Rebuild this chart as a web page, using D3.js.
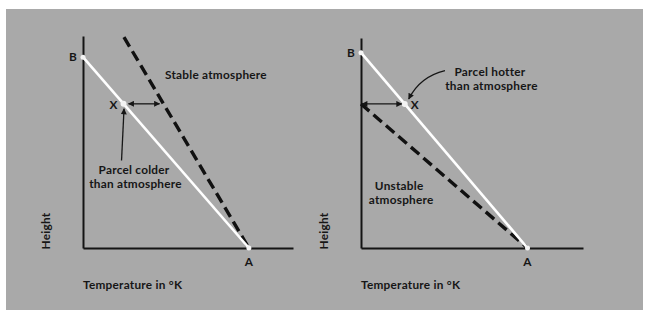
<!DOCTYPE html>
<html>
<head>
<meta charset="utf-8">
<script src="https://cdn.jsdelivr.net/npm/d3@7"></script>
<style>
  html, body { margin: 0; padding: 0; background: #fff; }
  #fig { width: 648px; height: 318px; }
  text { font-family: Lato, "DejaVu Sans", sans-serif; font-weight: 700; font-size: 11.8px; letter-spacing: 0.25px; fill: #161616; }
</style>
</head>
<body>
<div id="fig"></div>
<script>
// data (temperature / height in arbitrary units, 0..100 on each panel)
var panelTitles = [["Stable atmosphere"], ["Unstable", "atmosphere"]]
var parcelLines = [[[0, 90], [79, 0]], [[0, 93], [75, 0]]]          // dry adiabat B -> A (white)
var envLines = [[[19.5, 99.5], [79, 0]], [[0, 68.6], [75, 0]]]      // atmosphere lapse (dashed)
var parcelPoints = [[19.3, 68], [19.7, 68.6]]                       // X
var noteLines = [["Parcel colder", "than atmosphere"], ["Parcel hotter", "than atmosphere"]]
var noteAnchors = [[24.3, 35.1], [58.1, 82.1]]
var titleAnchors = [[63.3, 79.7], [17.2, 27.6]]
var xLabel = "Temperature in \u00b0K"
var yLabel = "Height"

!(function(){
    "use strict"

    var width = 648, height = 318
    var svg = d3.select("#fig").append("svg")
    // pixel frame of each panel: [x0, x1, y0, y1]
    var frames = [[83, 293, 248, 36], [361, 583, 248, 38]]

    main()

    function main() {
        svg.attr("width", width).attr("height", height)
        svg.append("rect")
            .attr("x", 6).attr("y", 9)
            .attr("width", 637).attr("height", 301)
            .attr("fill", "#a9a9a9")

        var defs = svg.append("defs")
        defs.append("marker")
            .attr("id", "head")
            .attr("markerUnits", "userSpaceOnUse")
            .attr("viewBox", "0 0 10 10")
            .attr("refX", 9).attr("refY", 5)
            .attr("markerWidth", 7).attr("markerHeight", 6)
            .attr("orient", "auto-start-reverse")
            .append("path")
            .attr("d", "M0,0L10,5L0,10z")
            .attr("fill", "#161616")

        frames.forEach(function(f, i) { drawPanel(i, f) })
    }

    function envXAt(line, h) {
        var p0 = line[0], p1 = line[1]
        return p0[0] + (p1[0] - p0[0]) * (h - p0[1]) / (p1[1] - p0[1])
    }

    // stacked lines as separate text nodes
    function stack(g, px, py, lines, gap, shift) {
        lines.forEach(function(t, k) {
            g.append("text")
                .attr("text-anchor", "middle")
                .attr("x", px + k * shift)
                .attr("y", py + k * gap)
                .text(t)
        })
    }

    function drawPanel(i, f) {
        var x = d3.scaleLinear().domain([0, 100]).range([f[0], f[1]])
        var y = d3.scaleLinear().domain([0, 100]).range([f[2], f[3]])
        var g = svg.append("g").classed("panel", true)

        // axes (no ticks, just the lines)
        g.append("g")
            .attr("transform", "translate(0," + f[2] + ")")
            .call(d3.axisBottom(x).tickValues([]).tickSizeOuter(0))
        g.append("g")
            .attr("transform", "translate(" + f[0] + ",0)")
            .call(d3.axisLeft(y).tickValues([]).tickSizeOuter(0))
        g.selectAll(".domain").attr("stroke", "#141414").attr("stroke-width", 2)

        var line = d3.line().x(function(d) { return x(d[0]) }).y(function(d) { return y(d[1]) })

        // dashed atmosphere line
        g.append("path")
            .attr("d", line(envLines[i]))
            .attr("fill", "none")
            .attr("stroke", "#111")
            .attr("stroke-width", 3.4)
            .attr("stroke-dasharray", "11,5.5")

        // white parcel line
        g.append("path")
            .attr("d", line(parcelLines[i]))
            .attr("fill", "none")
            .attr("stroke", "#fff")
            .attr("stroke-width", 2.6)

        var B = parcelLines[i][0], A = parcelLines[i][1], X = parcelPoints[i]
        g.selectAll(".dot")
            .data([B, X, A])
            .enter().append("circle")
            .attr("cx", function(d) { return x(d[0]) })
            .attr("cy", function(d) { return y(d[1]) })
            .attr("r", function(d, k) { return k == 1 ? 3 : 2.5 })
            .attr("fill", "#f4f4f4")

        // point labels
        g.append("text").attr("x", x(B[0]) - 10).attr("y", y(B[1]) + 4).attr("text-anchor", "middle").text("B")
        g.append("text").attr("x", x(A[0])).attr("y", y(A[1]) + 18).attr("text-anchor", "middle").text("A")
        g.append("text")
            .attr("x", x(X[0]) + (i == 0 ? -10 : 10))
            .attr("y", y(X[1]) + 5)
            .attr("text-anchor", "middle")
            .text("X")

        // horizontal double arrow between parcel and atmosphere
        var ex = envXAt(envLines[i], X[1])
        var xa = x(Math.min(ex, X[0])), xb = x(Math.max(ex, X[0]))
        g.append("line")
            .attr("x1", xa + (i == 0 ? 5 : 1)).attr("x2", xb - (i == 0 ? 4 : 3))
            .attr("y1", y(X[1])).attr("y2", y(X[1]))
            .attr("stroke", "#161616").attr("stroke-width", 1.3)
            .attr("marker-start", "url(#head)")
            .attr("marker-end", "url(#head)")

        // note text + pointer
        var na = noteAnchors[i]
        stack(g, x(na[0]), y(na[1]), noteLines[i], 14, 1.5)

        var pointer
        if (i == 0) {
            pointer = "M" + [x(X[0]) - 2, y(na[1]) - 13] + "L" + [x(X[0]) + 0.5, y(X[1]) + 5]
        } else {
            var sx = x(na[0]) - 45, sy = y(na[1]) - 5
            pointer = "M" + [sx, sy] + "Q" + [sx - 25, sy + 6] + " " + [x(X[0]) + 4, y(X[1]) - 5]
        }
        g.append("path")
            .attr("d", pointer)
            .attr("fill", "none")
            .attr("stroke", "#161616").attr("stroke-width", 1.3)
            .attr("marker-end", "url(#head)")

        // panel title
        var ta = titleAnchors[i]
        stack(g, x(ta[0]), y(ta[1]), panelTitles[i], 14, 2)

        // axis labels
        g.append("text")
            .attr("x", f[0])
            .attr("y", f[2] + 41)
            .text(xLabel)
        g.append("text")
            .attr("text-anchor", "middle")
            .attr("transform", "translate(" + [f[0] - 37, f[2] - 17] + ")rotate(-90)")
            .attr("dy", "0.35em")
            .text(yLabel)
    }
}());
</script>
</body>
</html>
